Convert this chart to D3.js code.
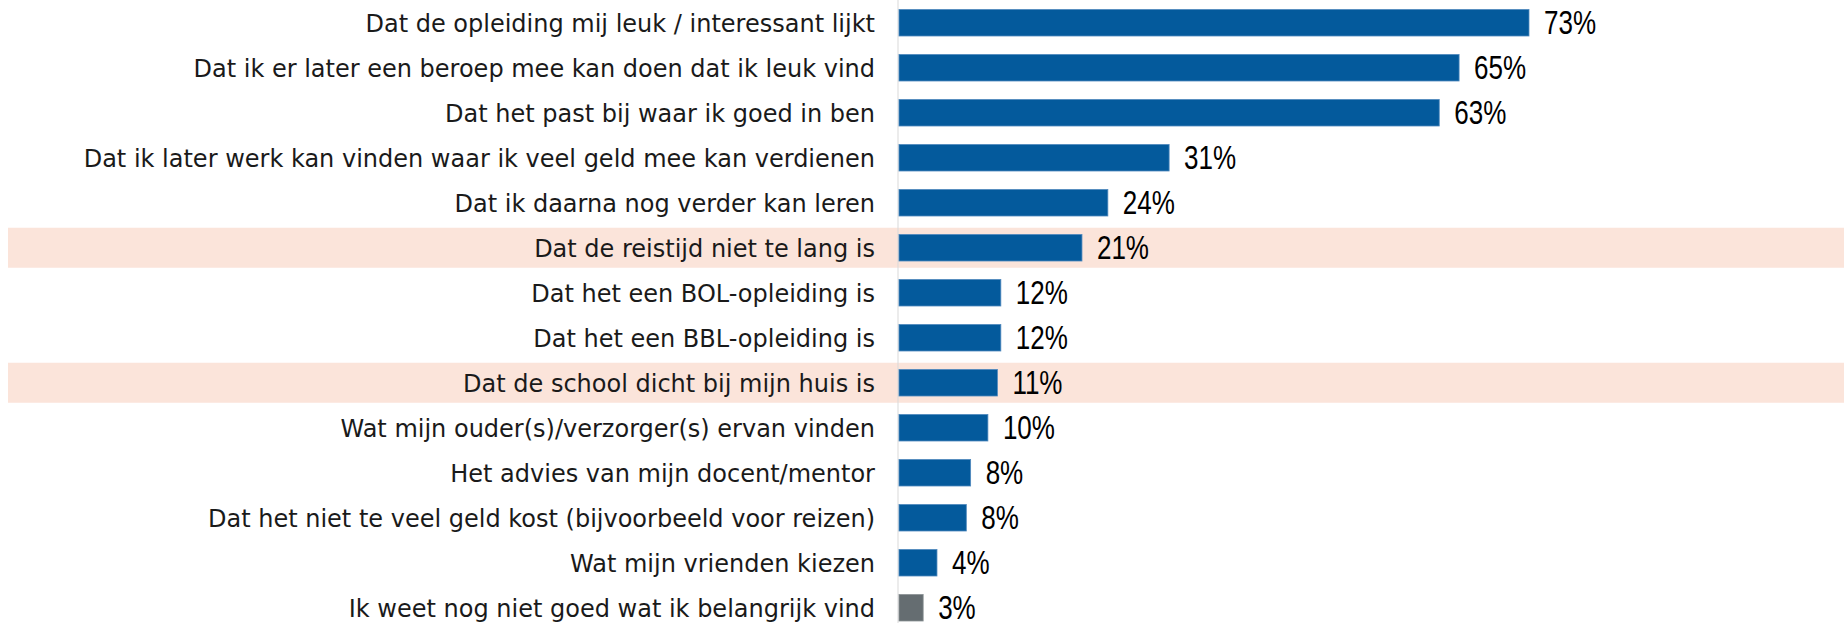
<!DOCTYPE html>
<html>
<head>
<meta charset="utf-8">
<script src="https://cdn.jsdelivr.net/npm/d3@7"></script>
<style>
	html, body { margin: 0; padding: 0; background: #fff; }
	#app { width: 1844px; height: 623px; overflow: hidden; }
</style>
</head>
<body>
<div id="app"></div>
<script>
const categories = [
	'Dat de opleiding mij leuk / interessant lijkt',
	'Dat ik er later een beroep mee kan doen dat ik leuk vind',
	'Dat het past bij waar ik goed in ben',
	'Dat ik later werk kan vinden waar ik veel geld mee kan verdienen',
	'Dat ik daarna nog verder kan leren',
	'Dat de reistijd niet te lang is',
	'Dat het een BOL-opleiding is',
	'Dat het een BBL-opleiding is',
	'Dat de school dicht bij mijn huis is',
	'Wat mijn ouder(s)/verzorger(s) ervan vinden',
	'Het advies van mijn docent/mentor',
	'Dat het niet te veel geld kost (bijvoorbeeld voor reizen)',
	'Wat mijn vrienden kiezen',
	'Ik weet nog niet goed wat ik belangrijk vind',
];
const values = [73, 64.9, 62.6, 31.3, 24.2, 21.2, 11.8, 11.8, 11.4, 10.3, 8.3, 7.8, 4.4, 2.8];
const highlighted = [
	'Dat de reistijd niet te lang is',
	'Dat de school dicht bij mijn huis is',
];
const neutral = ['Ik weet nog niet goed wat ik belangrijk vind'];

const width = 1844;
const height = 623;
const rows = categories.map((c, i) => ({ category: c, value: values[i] }));

const svg = d3.select('#app').append('svg')
	.attr('width', width)
	.attr('height', height);

const x = d3.scaleLinear().domain([0, 100]).range([899, 899 + 863]);
const y = d3.scalePoint().domain(categories).range([22.75, 22.75 + 13 * 45]);
const barHeight = 26.5;
const fmt = (v) => `${Math.round(v)}%`;

// highlight bands
svg.selectAll('rect.band')
	.data(highlighted)
	.join('rect')
	.attr('class', 'band')
	.attr('x', 8)
	.attr('y', (d) => y(d) - 20)
	.attr('width', width - 8)
	.attr('height', 40)
	.attr('fill', '#fbe4da');

// axis line
svg.append('line')
	.attr('x1', x(0) - 1).attr('x2', x(0) - 1)
	.attr('y1', 0).attr('y2', height)
	.attr('stroke', '#d9d9d9')
	.attr('stroke-width', 1);

svg.selectAll('rect.bar')
	.data(rows)
	.join('rect')
	.attr('class', 'bar')
	.attr('x', x(0))
	.attr('y', (d) => y(d.category) - barHeight / 2)
	.attr('width', (d) => x(d.value) - x(0))
	.attr('height', barHeight)
	.attr('fill', (d) => neutral.includes(d.category) ? '#656d71' : '#045a9c')
	.attr('stroke', (d) => neutral.includes(d.category) ? '#8a9194' : '#4f88bd')
	.attr('stroke-width', 0.8);

svg.selectAll('text.cat')
	.data(rows)
	.join('text')
	.attr('class', 'cat')
	.attr('x', 875)
	.attr('y', (d) => y(d.category) + 9)
	.attr('text-anchor', 'end')
	.attr('font-family', 'DejaVu Sans')
	.attr('font-size', 24)
	.attr('fill', '#1a1a1a')
	.text((d) => d.category);

// value labels: narrow face, squeezed horizontally
svg.selectAll('text.val')
	.data(rows)
	.join('text')
	.attr('class', 'val')
	.attr('transform', (d) => `translate(${x(d.value) + 15},${y(d.category) + 11.7}) scale(0.8,1)`)
	.attr('font-family', 'Liberation Sans')
	.attr('font-size', 32.5)
	.attr('fill', '#000')
	.text((d) => fmt(d.value));
</script>
</body>
</html>
